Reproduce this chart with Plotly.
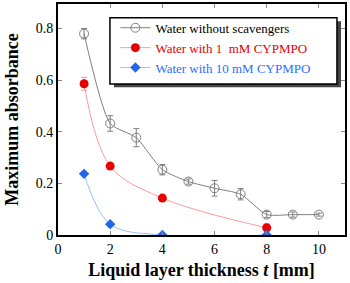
import plotly.graph_objects as go

x_water = [1, 2, 3, 4, 5, 6, 7, 8, 9, 10]
y_water = [0.78, 0.432, 0.377, 0.253, 0.207, 0.181, 0.158, 0.079, 0.079, 0.079]
err_water = [0.02, 0.03, 0.035, 0.02, 0.01, 0.03, 0.022, 0.012, 0.01, 0.006]

x_1mM = [1, 2, 4, 8]
y_1mM = [0.586, 0.267, 0.143, 0.028]
err_1mM = [0.025, 0.0, 0.0, 0.015]

x_10mM = [1, 2, 4, 8]
y_10mM = [0.237, 0.042, 0.0, 0.0]

FONT = "Liberation Serif, Times New Roman, DejaVu Serif, serif"

fig = go.Figure()
fig.add_trace(go.Scatter(
    x=x_water, y=y_water, mode="lines+markers", line_shape="spline",
    line=dict(color="#7f7f7f", width=1, smoothing=0.6),
    marker=dict(symbol="circle-open", size=9, color="#7f7f7f", line=dict(width=1)),
    error_y=dict(type="data", array=err_water, color="#7f7f7f", thickness=1, width=3),
    name="Water without scavengers"))
fig.add_trace(go.Scatter(
    x=x_1mM, y=y_1mM, mode="lines+markers", line_shape="spline",
    line=dict(color="#ff9a9a", width=1, smoothing=1),
    marker=dict(symbol="circle", size=9, color="#e60000"),
    error_y=dict(type="data", array=err_1mM, color="#ff9a9a", thickness=1, width=3),
    name="<span style='color:#e60000'>Water with 1&nbsp; mM CYPMPO</span>"))
fig.add_trace(go.Scatter(
    x=x_10mM, y=y_10mM, mode="lines+markers", line_shape="spline",
    line=dict(color="#99bfff", width=1, smoothing=1),
    marker=dict(symbol="diamond", size=8, color="#2266ee"),
    name="<span style='color:#2a6fff'>Water with 10 mM CYPMPO</span>"))

# legend box with shadow
fig.add_shape(type="rect", xref="paper", yref="paper", x0=0.195, x1=0.986, y0=0.64, y1=0.925,
              fillcolor="#444444", line=dict(width=0), layer="below")
fig.add_shape(type="rect", xref="paper", yref="paper", x0=0.181, x1=0.972, y0=0.654, y1=0.94,
              fillcolor="white", line=dict(color="black", width=1.5), layer="below")

fig.update_layout(
    width=350, height=283,
    margin=dict(l=58, r=5, t=2, b=48),
    paper_bgcolor="white", plot_bgcolor="white",
    font=dict(family=FONT, size=14, color="black"),
    showlegend=True,
    legend=dict(x=0.2, y=0.962, xanchor="left", yanchor="top",
                bgcolor="rgba(0,0,0,0)", borderwidth=0,
                font=dict(family=FONT, size=13), tracegroupgap=0, itemwidth=30),
    xaxis=dict(range=[0, 11], tick0=0, dtick=2, ticks="inside", ticklen=4, tickcolor="#888888",
               showline=True, linecolor="black", linewidth=2, mirror="ticks", showgrid=False, zeroline=False,
               tickfont=dict(family=FONT, size=14),
               title=dict(text="<b>Liquid layer thickness <i>t</i> [mm]</b>", font=dict(family=FONT, size=18), standoff=8)),
    yaxis=dict(range=[0, 0.895], tick0=0, dtick=0.2, ticks="inside", ticklen=4, tickcolor="#888888",
               showline=True, linecolor="black", linewidth=2, mirror="ticks", showgrid=False, zeroline=False,
               tickfont=dict(family=FONT, size=14),
               title=dict(text="<b>Maximum absorbance</b>", font=dict(family=FONT, size=18), standoff=12)),
)
fig.write_html("out.html", config={"displayModeBar": False},
               post_script="document.body.style.margin='0';")
